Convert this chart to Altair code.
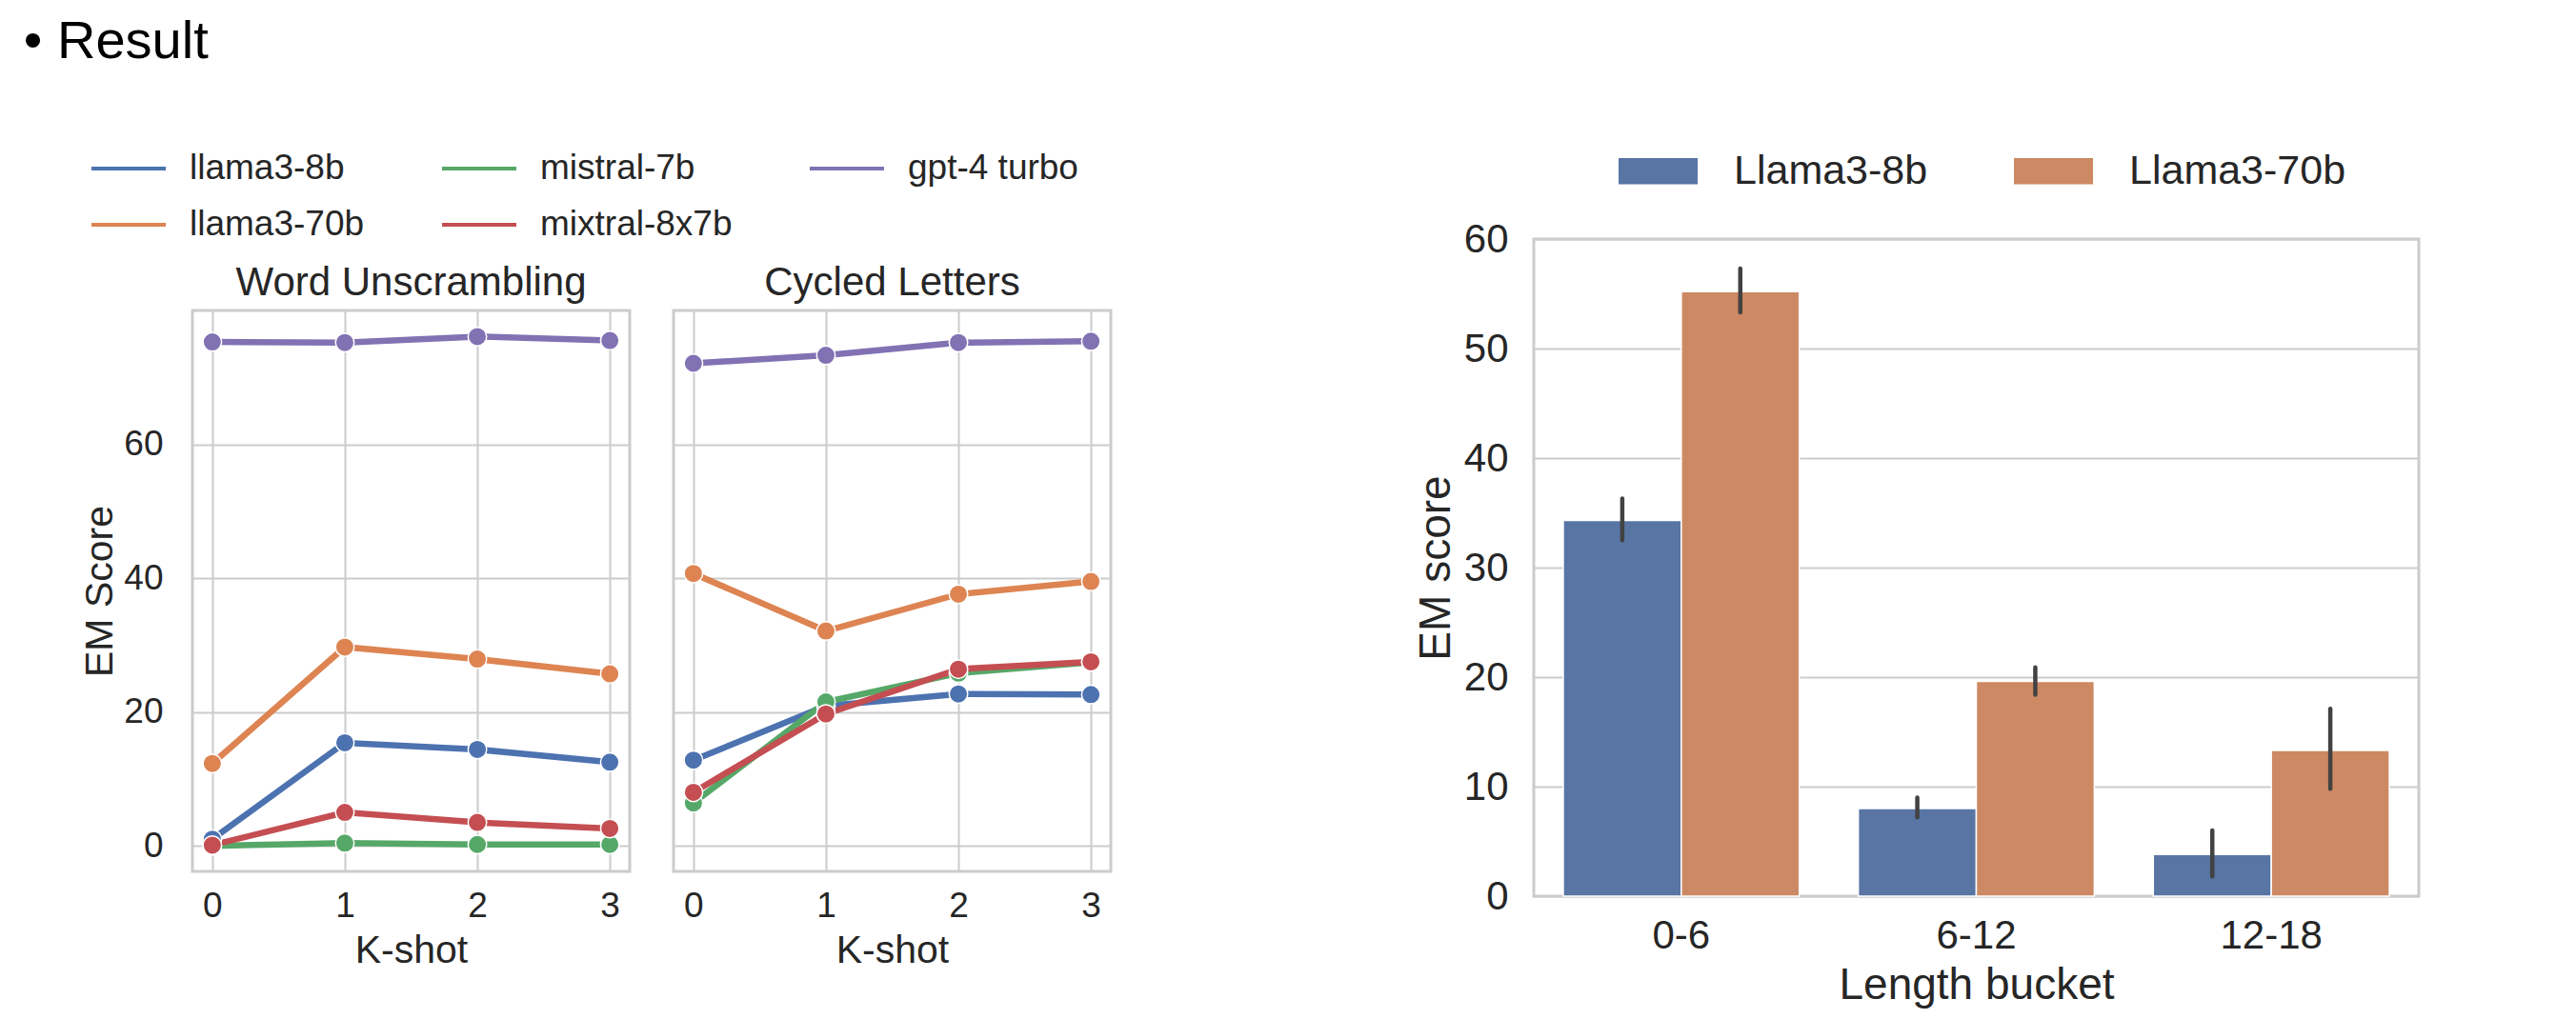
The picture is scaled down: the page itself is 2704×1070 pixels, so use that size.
import altair as alt
import pandas as pd

FONT = "Liberation Sans"
TXT = "#262626"

# ---------------- data: K-shot line panels ----------------
k_shots = [0, 1, 2, 3]
tasks = ["Word Unscrambling", "Cycled Letters"]
models = ["llama3-8b", "llama3-70b", "mistral-7b", "mixtral-8x7b", "gpt-4 turbo"]
model_colors = ["#4C72B0", "#DD8452", "#55A868", "#C44E52", "#8172B3"]

word_llama3_8b = [1.0, 15.4, 14.4, 12.5]
word_llama3_70b = [12.3, 29.7, 27.9, 25.7]
word_mistral_7b = [0.0, 0.4, 0.2, 0.2]
word_mixtral_8x7b = [0.1, 5.0, 3.5, 2.6]
word_gpt4_turbo = [75.3, 75.2, 76.1, 75.5]

cyc_llama3_8b = [12.8, 20.9, 22.7, 22.6]
cyc_llama3_70b = [40.7, 32.1, 37.6, 39.5]
cyc_mistral_7b = [6.4, 21.5, 25.8, 27.4]
cyc_mixtral_8x7b = [8.0, 19.7, 26.4, 27.5]
cyc_gpt4_turbo = [72.1, 73.3, 75.2, 75.4]

# ---------------- data: length-bucket bars ----------------
buckets = ["0-6", "6-12", "12-18"]
bar_models = ["Llama3-8b", "Llama3-70b"]
bar_colors = ["#5875A4", "#CC8963"]
llama8_mean = [34.3, 8.0, 3.8]
llama8_lo = [32.5, 7.2, 1.8]
llama8_hi = [36.3, 9.0, 6.0]
llama70_mean = [55.2, 19.6, 13.3]
llama70_lo = [53.3, 18.4, 9.8]
llama70_hi = [57.3, 20.9, 17.1]

# ---------------- tables ----------------
series = {
    "Word Unscrambling": [word_llama3_8b, word_llama3_70b, word_mistral_7b,
                          word_mixtral_8x7b, word_gpt4_turbo],
    "Cycled Letters": [cyc_llama3_8b, cyc_llama3_70b, cyc_mistral_7b,
                       cyc_mixtral_8x7b, cyc_gpt4_turbo],
}
rows = []
for task in tasks:
    for mi, m in enumerate(models):
        for k, v in zip(k_shots, series[task][mi]):
            rows.append({"task": task, "model": m, "order": mi, "k": k, "score": v})
line_df = pd.DataFrame(rows)

brows = []
for b_i, b in enumerate(buckets):
    brows.append({"bucket": b, "Model": bar_models[0], "mean": llama8_mean[b_i],
                  "lo": llama8_lo[b_i], "hi": llama8_hi[b_i]})
    brows.append({"bucket": b, "Model": bar_models[1], "mean": llama70_mean[b_i],
                  "lo": llama70_lo[b_i], "hi": llama70_hi[b_i]})
bar_df = pd.DataFrame(brows)

model_scale = alt.Scale(domain=models, range=model_colors)

# ---------------- left: faceted line panels ----------------
xk = alt.X("k:Q",
           scale=alt.Scale(domain=[-0.15, 3.15], nice=False, zero=False),
           axis=alt.Axis(values=k_shots, format="d", title="K-shot",
                         labelFontSize=37, titleFontSize=41,
                         labelPadding=16, titlePadding=9))
ys = alt.Y("score:Q",
           scale=alt.Scale(domain=[-3.82, 80.0], nice=False, zero=False),
           axis=alt.Axis(values=[0, 20, 40, 60], title="EM Score",
                         labelFontSize=37, titleFontSize=41,
                         labelPadding=29, titlePadding=3))

lines = alt.Chart().mark_line(strokeWidth=6.5).encode(
    x=xk, y=ys, color=alt.Color("model:N", scale=model_scale, legend=None),
    order=alt.Order("k:Q"))
dots = alt.Chart().mark_circle(size=380, opacity=1, stroke="white",
                               strokeWidth=1.5).encode(
    x=xk, y=ys, color=alt.Color("model:N", scale=model_scale, legend=None))

facet = alt.layer(lines, dots, data=line_df).properties(
    width=459, height=589
).facet(
    column=alt.Column("task:N", sort=tasks,
                      header=alt.Header(title=None, labelFontSize=42,
                                        labelFont=FONT, labelColor=TXT,
                                        labelPadding=5)),
    spacing=42,
)

# invisible holder that carries the line legend above the panels
holder = alt.Chart(line_df).mark_rule(opacity=0).encode(
    x=alt.value(0), y=alt.value(0), y2=alt.value(1),
    color=alt.Color("model:N", scale=model_scale,
                    legend=alt.Legend(orient="none", legendX=-108, legendY=-115,
                                      columns=3, title=None,
                                      symbolType="stroke", symbolSize=6084,
                                      symbolStrokeWidth=4, symbolOpacity=1,
                                      labelFontSize=37, labelFont=FONT,
                                      labelColor=TXT, labelOffset=23,
                                      labelLimit=500,
                                      columnPadding=73, rowPadding=-12))
).properties(width=1, height=25, view=alt.ViewBackground(strokeWidth=0))

left = alt.vconcat(holder, facet, spacing=0).resolve_scale(color="independent")

# ---------------- right: grouped bars ----------------
xb = alt.X("bucket:N", sort=buckets,
           scale=alt.Scale(paddingInner=0.2, paddingOuter=0.1),
           axis=alt.Axis(title="Length bucket", labelAngle=0, grid=False,
                         labelFontSize=42, titleFontSize=46,
                         labelPadding=21, titlePadding=9))
xo = alt.XOffset("Model:N", sort=bar_models,
                 scale=alt.Scale(paddingInner=0, paddingOuter=0))
yb = alt.Y("mean:Q", scale=alt.Scale(domain=[0, 60], nice=False),
           axis=alt.Axis(values=[0, 10, 20, 30, 40, 50, 60], title="EM score",
                         labelFontSize=42, titleFontSize=46,
                         labelPadding=27, titlePadding=5))
bars = alt.Chart(bar_df).mark_bar(stroke="white", strokeWidth=1.5).encode(
    x=xb, xOffset=xo, y=yb,
    color=alt.Color("Model:N",
                    scale=alt.Scale(domain=bar_models, range=bar_colors),
                    legend=alt.Legend(orient="none", legendX=89, legendY=-113,
                                      direction="horizontal", title=None,
                                      symbolType="M-1,-0.33H1V0.33H-1Z",
                                      symbolSize=6889, symbolStrokeWidth=0,
                                      symbolOpacity=1,
                                      labelFontSize=43, labelFont=FONT,
                                      labelColor=TXT, labelOffset=38,
                                      labelLimit=500,
                                      columnPadding=90)))
errs = alt.Chart(bar_df).mark_rule(strokeWidth=4.5, color="#424242",
                                   strokeCap="round").encode(
    x=xb, xOffset=xo, y="lo:Q", y2="hi:Q")

right = alt.vconcat(alt.layer(bars, errs).properties(width=929, height=690))

chart = alt.hconcat(left, right, spacing=314).resolve_scale(
    color="independent"
).properties(
    title=alt.TitleParams("\u2022  Result", anchor="start", fontSize=56,
                          font=FONT, fontWeight="normal", color="black",
                          offset=63, dx=-60),
    padding={"left": 24, "top": 16, "right": 5, "bottom": 5},
    background="white",
).configure_view(
    stroke="#cccccc", strokeWidth=3
).configure_axis(
    domain=False, ticks=False, gridColor="#cccccc", gridWidth=2,
    labelFont=FONT, titleFont=FONT, labelColor=TXT, titleColor=TXT,
    titleFontWeight="normal"
)

chart.save("out.html", embed_options={"renderer": "svg", "actions": False})
